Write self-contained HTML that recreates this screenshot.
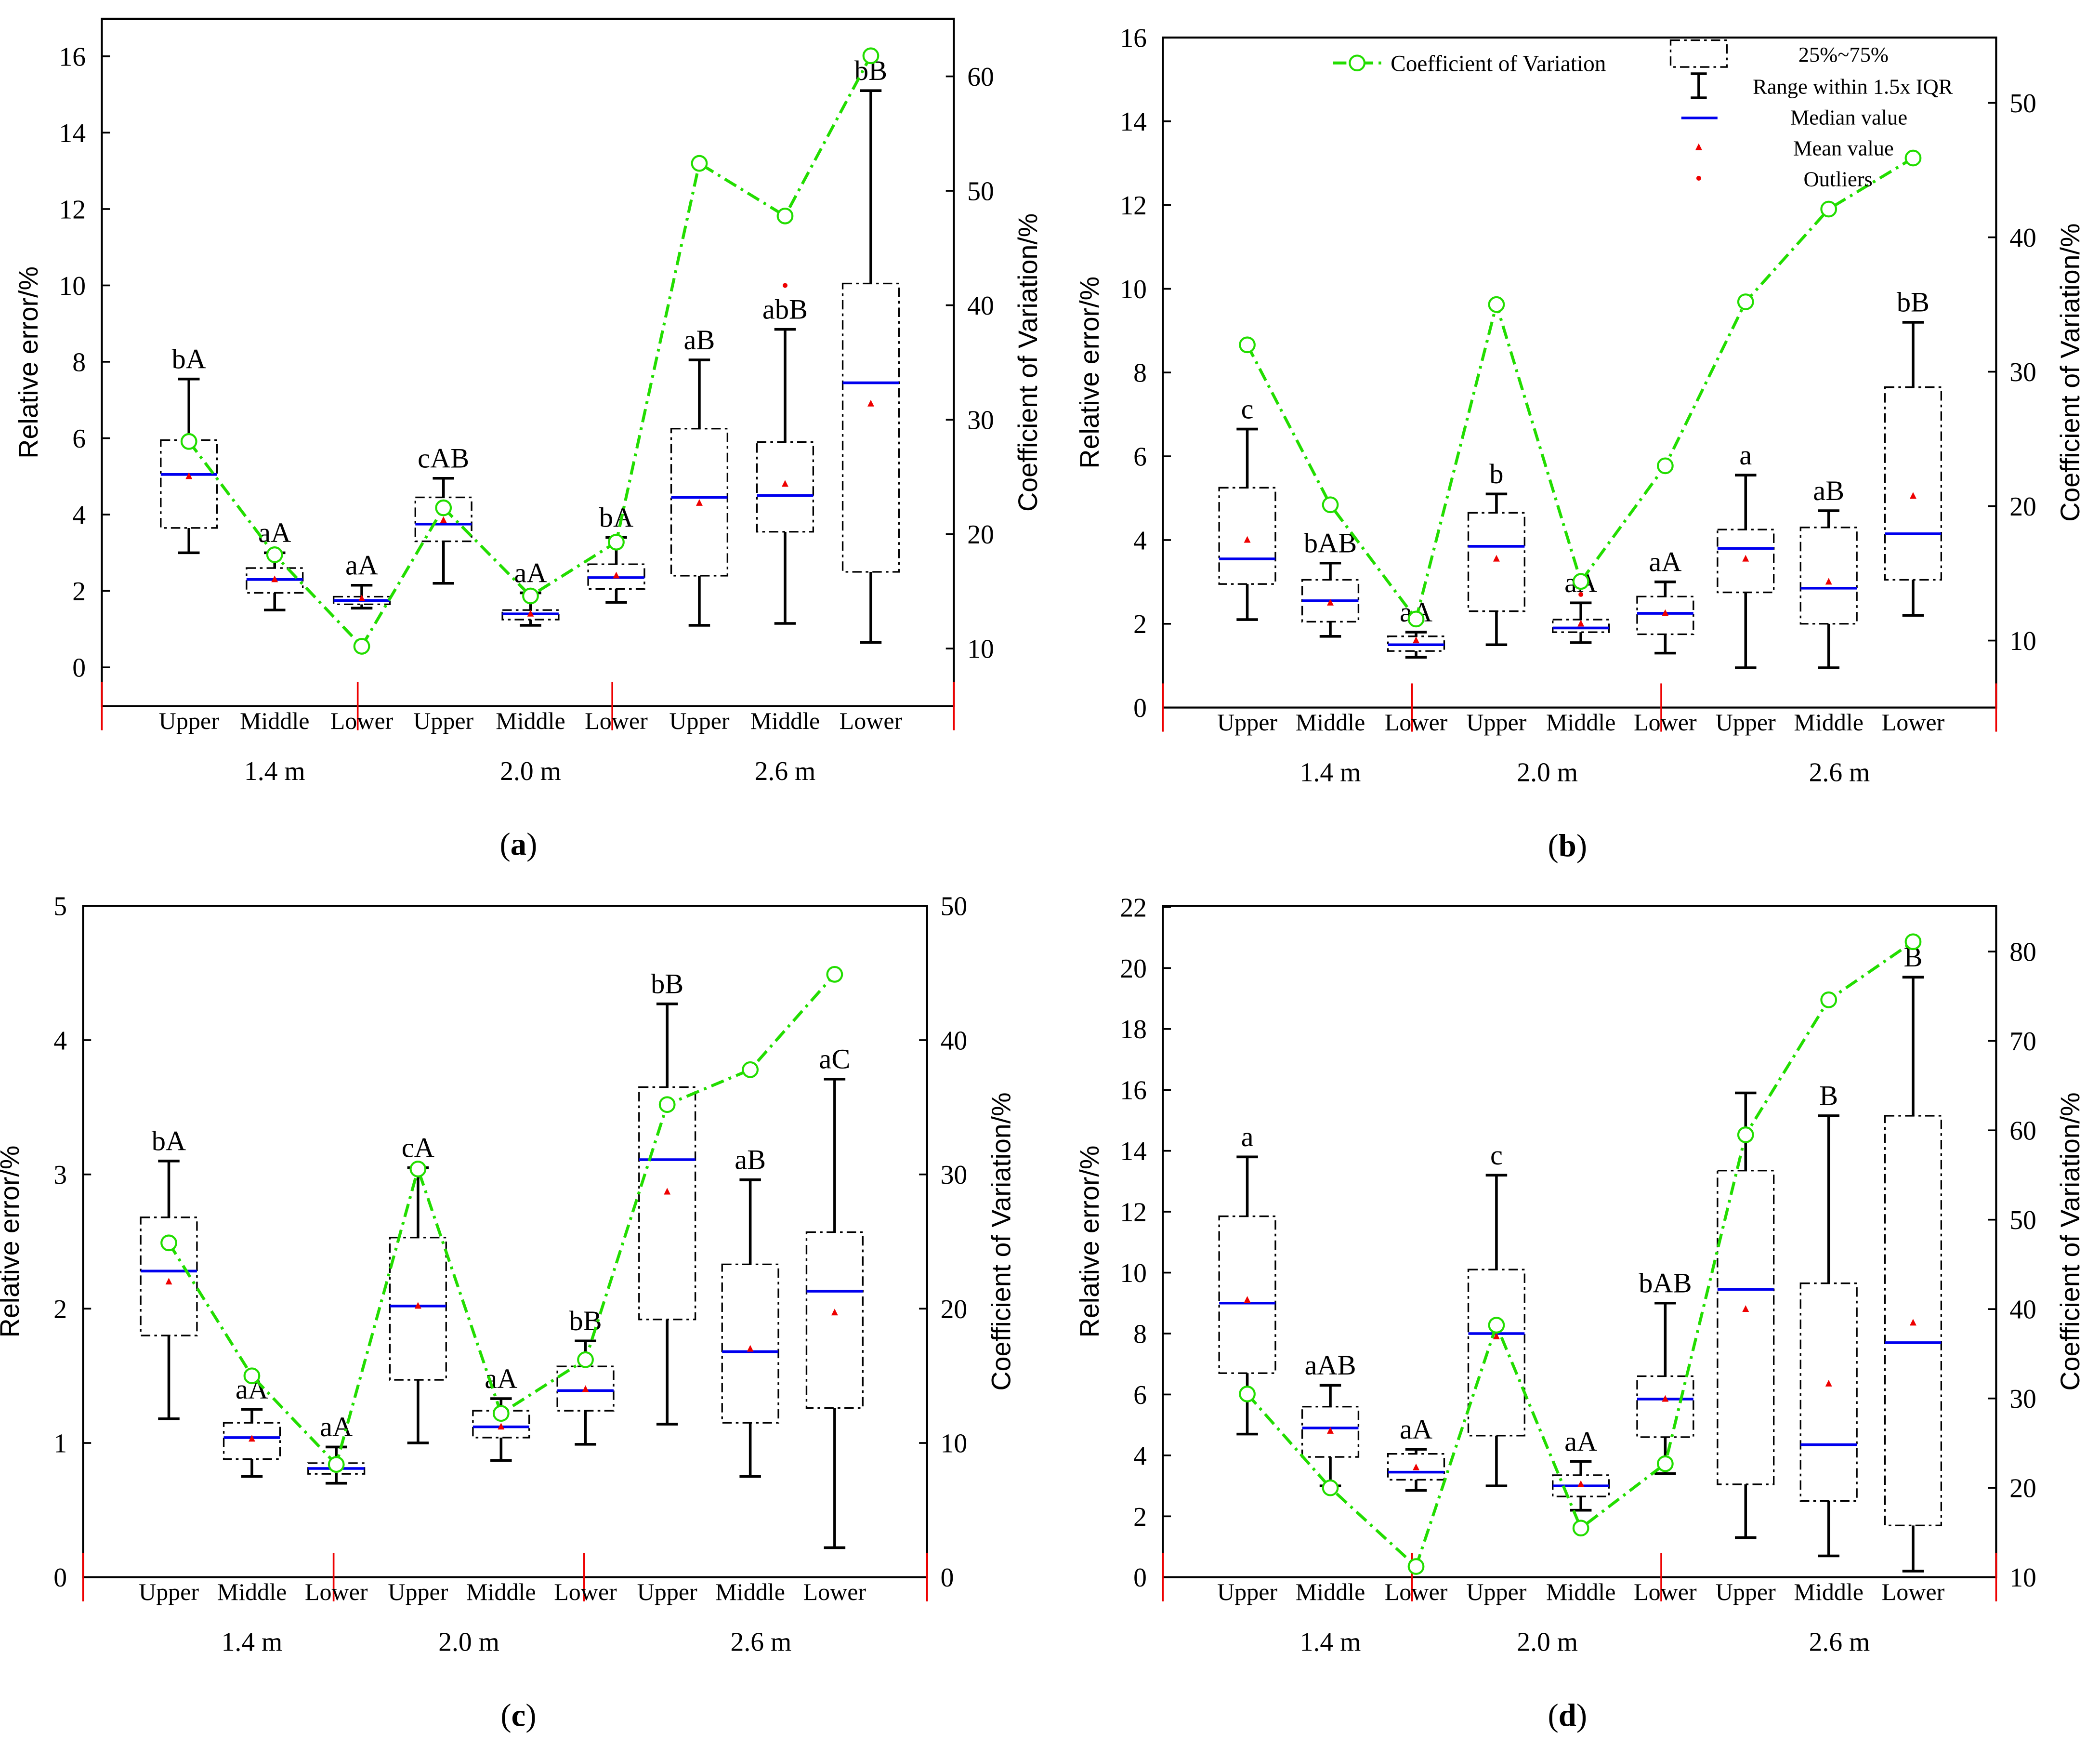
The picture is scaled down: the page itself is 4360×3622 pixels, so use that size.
<!DOCTYPE html>
<html><head><meta charset="utf-8"><style>
html,body{margin:0;padding:0;background:#fff}
svg{display:block}
text{font-family:"Liberation Serif",serif;fill:#000}
</style></head><body>
<svg id="chart" width="4360" height="3622" viewBox="0 0 1567.5 1302.2" xmlns="http://www.w3.org/2000/svg">
<g id="root"></g>
</svg>
<script>
const categories=["Upper","Middle","Lower","Upper","Middle","Lower","Upper","Middle","Lower"];
const groups=["1.4 m","2.0 m","2.6 m"];
// Panel a
const aLow=[3.0,1.5,1.55,2.2,1.1,1.7,1.1,1.15,0.65];
const aQ1=[3.65,1.95,1.65,3.3,1.25,2.05,2.4,3.55,2.5];
const aMed=[5.05,2.3,1.75,3.75,1.4,2.35,4.45,4.5,7.45];
const aQ3=[5.95,2.6,1.85,4.45,1.5,2.7,6.25,5.9,10.05];
const aHigh=[7.55,3.0,2.15,4.95,1.95,3.4,8.05,8.85,15.1];
const aMean=[5.0,2.3,1.8,3.85,1.4,2.4,4.3,4.8,6.9];
const aOut=[[],[],[],[],[],[],[],[10.0],[]];
const aCV=[28.1,18.2,10.2,22.3,14.6,19.3,52.4,47.8,61.8];
const aLab=["bA","aA","aA","cAB","aA","bA","aB","abB","bB"];
// Panel b
const bLow=[2.1,1.7,1.2,1.5,1.55,1.3,0.95,0.95,2.2];
const bQ1=[2.95,2.05,1.35,2.3,1.8,1.75,2.75,2.0,3.05];
const bMed=[3.55,2.55,1.5,3.85,1.9,2.25,3.8,2.85,4.15];
const bQ3=[5.25,3.05,1.7,4.65,2.1,2.65,4.25,4.3,7.65];
const bHigh=[6.65,3.45,1.8,5.1,2.5,3.0,5.55,4.7,9.2];
const bMean=[4.0,2.5,1.6,3.55,2.0,2.25,3.55,3.0,5.05];
const bOut=[[],[],[],[],[2.7],[],[],[],[]];
const bCV=[32.0,20.1,11.6,35.0,14.4,23.0,35.2,42.1,45.9];
const bLab=["c","bAB","aA","b","aA","aA","a","aB","bB"];
// Panel c
const cLow=[1.18,0.75,0.7,1.0,0.87,0.99,1.14,0.75,0.22];
const cQ1=[1.8,0.88,0.77,1.47,1.04,1.24,1.92,1.15,1.26];
const cMed=[2.28,1.04,0.81,2.02,1.12,1.39,3.11,1.68,2.13];
const cQ3=[2.68,1.15,0.85,2.53,1.24,1.57,3.65,2.33,2.57];
const cHigh=[3.1,1.25,0.97,3.05,1.33,1.76,4.27,2.96,3.71];
const cMean=[2.2,1.03,0.82,2.02,1.12,1.4,2.87,1.7,1.97];
const cOut=[[],[],[],[],[],[],[],[],[]];
const cCV=[24.9,15.0,8.4,30.4,12.2,16.2,35.2,37.8,44.9];
const cLab=["bA","aA","aA","cA","aA","bB","bB","aB","aC"];
// Panel d
const dLow=[4.7,3.0,2.85,3.0,2.2,3.4,1.3,0.7,0.2];
const dQ1=[6.7,3.95,3.2,4.65,2.65,4.6,3.05,2.5,1.7];
const dMed=[9.0,4.9,3.45,8.0,3.0,5.85,9.45,4.35,7.7];
const dQ3=[11.85,5.6,4.05,10.1,3.35,6.6,13.35,9.65,15.15];
const dHigh=[13.8,6.3,4.2,13.2,3.8,9.0,15.9,15.15,19.7];
const dMean=[9.1,4.8,3.6,7.9,3.05,5.85,8.8,6.35,8.35];
const dOut=[[],[],[],[],[],[],[],[],[]];
const dCV=[30.5,20.0,11.2,38.2,15.5,22.7,59.5,74.6,81.1];
const dLab=["a","aAB","aA","c","aA","bAB","","B","B"];
const aTicksL=[0,2,4,6,8,10,12,14,16], aTicksR=[10,20,30,40,50,60];
const bTicksL=[0,2,4,6,8,10,12,14,16], bTicksR=[10,20,30,40,50];
const cTicksL=[0,1,2,3,4,5], cTicksR=[0,10,20,30,40,50];
const dTicksL=[0,2,4,6,8,10,12,14,16,18,20,22], dTicksR=[10,20,30,40,50,60,70,80];

const NS="http://www.w3.org/2000/svg";
const root=document.getElementById('root');
function mk(tag,attrs,parent,txt){const e=document.createElementNS(NS,tag);for(const k in attrs)e.setAttribute(k,attrs[k]);if(txt!==undefined)e.textContent=txt;(parent||root).appendChild(e);return e;}

function panel(P){
  const g=mk('g',{});
  
  
  const yL=v=>P.y0-(v-P.l0)*P.lk, yR=v=>P.r0y-(v-P.r0)*P.rk;
  const xs=P.xs;
  const fr=mk('rect',{x:P.x1,y:P.top,width:P.x2-P.x1,height:P.bottom-P.top,fill:'none',stroke:'#000','stroke-width':1.5},g);
  
  
  P.tl.forEach(t=>{const y=yL(t);
    mk('line',{x1:P.x1,x2:P.x1+6,y1:y,y2:y,stroke:'#000','stroke-width':1.3},g);
    const tx=mk('text',{x:P.x1-12,y:y+7,'font-size':20,'text-anchor':'end'},g,String(t));
    
    });
  P.tr.forEach(t=>{const y=yR(t);
    mk('line',{x1:P.x2,x2:P.x2-6,y1:y,y2:y,stroke:'#000','stroke-width':1.3},g);
    const tx=mk('text',{x:P.x2+10,y:y+7,'font-size':20},g,String(t));
    
    });
  P.seps.forEach(x=>{const l=mk('line',{x1:x,x2:x,y1:P.bottom-18,y2:P.bottom+18,stroke:'#e00','stroke-width':1.3},g);
    
    });
  const ly=(P.top+P.bottom)/2;
  const t1=mk('text',{x:0,y:0,'font-size':20,'text-anchor':'middle','style':'font-family:"Liberation Sans",sans-serif',transform:`translate(${P.x1-48},${ly}) rotate(-90)`},g,'Relative error/%');
  
  
  const t2=mk('text',{x:0,y:0,'font-size':20,'text-anchor':'middle','style':'font-family:"Liberation Sans",sans-serif',transform:`translate(${P.x2+62},${ly}) rotate(-90)`},g,'Coefficient of Variation/%');
  
  
  categories.forEach((c,i)=>{const t=mk('text',{x:xs[i],y:P.bottom+17,'font-size':18,'text-anchor':'middle'},g,c);
    
    });
  groups.forEach((c,i)=>{const t=mk('text',{x:P.gx[i],y:P.bottom+55,'font-size':20,'text-anchor':'middle'},g,c);
    
    });
  const hw=21, cw=8;
  xs.forEach((x,i)=>{
    const bg=mk('g',{},g);
    
    
    const yl=yL(P.low[i]),yq1=yL(P.q1[i]),yq3=yL(P.q3[i]),yh=yL(P.high[i]);
    mk('line',{x1:x,x2:x,y1:yh,y2:yq3,stroke:'#000','stroke-width':2},bg);
    mk('line',{x1:x,x2:x,y1:yq1,y2:yl,stroke:'#000','stroke-width':2},bg);
    mk('line',{x1:x-cw,x2:x+cw,y1:yh,y2:yh,stroke:'#000','stroke-width':2},bg);
    mk('line',{x1:x-cw,x2:x+cw,y1:yl,y2:yl,stroke:'#000','stroke-width':2},bg);
    mk('rect',{x:x-hw,y:yq3,width:2*hw,height:yq1-yq3,fill:'#fff',stroke:'#000','stroke-width':1.2,'stroke-dasharray':'7 3 2 3'},bg);
    const ym=yL(P.med[i]);
    mk('line',{x1:x-hw,x2:x+hw,y1:ym,y2:ym,stroke:'#0000ee','stroke-width':2},bg);
    const yme=yL(P.mean[i]);
    mk('polygon',{points:`${x},${yme-3} ${x-2.5},${yme+2} ${x+2.5},${yme+2}`,fill:'#e00'},bg);
    P.out[i].forEach(o=>mk('circle',{cx:x,cy:yL(o),r:1.8,fill:'#e00'},bg));
    if(P.lab[i]){const t=mk('text',{x:x,y:yh-8,'font-size':21,'text-anchor':'middle'},bg,P.lab[i]);
      
      }
  });
  const pts=xs.map((x,i)=>x+','+yR(P.cv[i])).join(' ');
  const pl=mk('polyline',{points:pts,fill:'none',stroke:'#22dd00','stroke-width':2.2,'stroke-dasharray':'10 4 2 4'},g);
  
  
  xs.forEach((x,i)=>{const c=mk('circle',{cx:x,cy:yR(P.cv[i]),r:5.5,fill:'#fff',stroke:'#22dd00','stroke-width':1.5},g);
    
    });
  const pt=mk('text',{x:P.plx,y:P.bottom+111,'font-size':24,'text-anchor':'middle'},g,'');
  
  
  mk('tspan',{},pt,'(');mk('tspan',{'font-weight':'bold'},pt,P.id);mk('tspan',{},pt,')');
}
const xsL=[141,205,270,331,396,460,522,586,650];
const xsR=[931,993,1057,1117,1180,1243,1303,1365,1428];
const xsC=[126,188,251,312,374,437,498,560,623];
panel({id:'a',x1:76,x2:712,top:14,bottom:527,y0:498,l0:0,lk:28.5,r0y:484,r0:10,rk:8.54,xs:xsL,tl:aTicksL,tr:aTicksR,seps:[76,267,457,712],gx:[205,396,586],plx:387,
 low:aLow,q1:aQ1,med:aMed,q3:aQ3,high:aHigh,mean:aMean,out:aOut,cv:aCV,lab:aLab});
panel({id:'b',x1:868,x2:1490,top:28,bottom:528,y0:528,l0:0,lk:31.25,r0y:478,r0:10,rk:10.03,xs:xsR,tl:bTicksL,tr:bTicksR,seps:[868,1054,1240,1490],gx:[993,1155,1373],plx:1170,
 low:bLow,q1:bQ1,med:bMed,q3:bQ3,high:bHigh,mean:bMean,out:bOut,cv:bCV,lab:bLab});
panel({id:'c',x1:62,x2:692,top:676,bottom:1177,y0:1177,l0:0,lk:100.2,r0y:1177,r0:0,rk:10.02,xs:xsC,tl:cTicksL,tr:cTicksR,seps:[62,249,436,692],gx:[188,350,568],plx:387,
 low:cLow,q1:cQ1,med:cMed,q3:cQ3,high:cHigh,mean:cMean,out:cOut,cv:cCV,lab:cLab});
panel({id:'d',x1:868,x2:1490,top:676,bottom:1177,y0:1177,l0:0,lk:22.73,r0y:1177,r0:10,rk:6.67,xs:xsR,tl:dTicksL,tr:dTicksR,seps:[868,1054,1240,1490],gx:[993,1155,1373],plx:1170,
 low:dLow,q1:dQ1,med:dMed,q3:dQ3,high:dHigh,mean:dMean,out:dOut,cv:dCV,lab:dLab});
const lg=mk('g',{});


mk('line',{x1:995,x2:1032,y1:47,y2:47,stroke:'#22dd00','stroke-width':2.2,'stroke-dasharray':'10 4 2 4'},lg);
mk('circle',{cx:1013,cy:47,r:5.5,fill:'#fff',stroke:'#22dd00','stroke-width':1.5},lg);
mk('text',{x:1038,y:53,'font-size':17},lg,'Coefficient of Variation');
mk('rect',{x:1247,y:30,width:42,height:20,fill:'#fff',stroke:'#000','stroke-width':1.2,'stroke-dasharray':'7 3 2 3'},lg);
mk('text',{x:1376,y:46,'font-size':16,'text-anchor':'middle'},lg,'25%~75%');
mk('line',{x1:1268,x2:1268,y1:55,y2:73,stroke:'#000','stroke-width':2},lg);
mk('line',{x1:1262,x2:1274,y1:55,y2:55,stroke:'#000','stroke-width':2},lg);
mk('line',{x1:1262,x2:1274,y1:73,y2:73,stroke:'#000','stroke-width':2},lg);
mk('text',{x:1383,y:70,'font-size':16,'text-anchor':'middle'},lg,'Range within 1.5x IQR');
mk('line',{x1:1255,x2:1282,y1:88,y2:88,stroke:'#0000ee','stroke-width':2},lg);
mk('text',{x:1380,y:93,'font-size':16,'text-anchor':'middle'},lg,'Median value');
mk('polygon',{points:'1268,107 1265.5,112 1270.5,112',fill:'#e00'},lg);
mk('text',{x:1376,y:116,'font-size':16,'text-anchor':'middle'},lg,'Mean value');
mk('circle',{cx:1268,cy:133,r:1.8,fill:'#e00'},lg);
mk('text',{x:1372,y:139,'font-size':16,'text-anchor':'middle'},lg,'Outliers');
</script>
</body></html>
